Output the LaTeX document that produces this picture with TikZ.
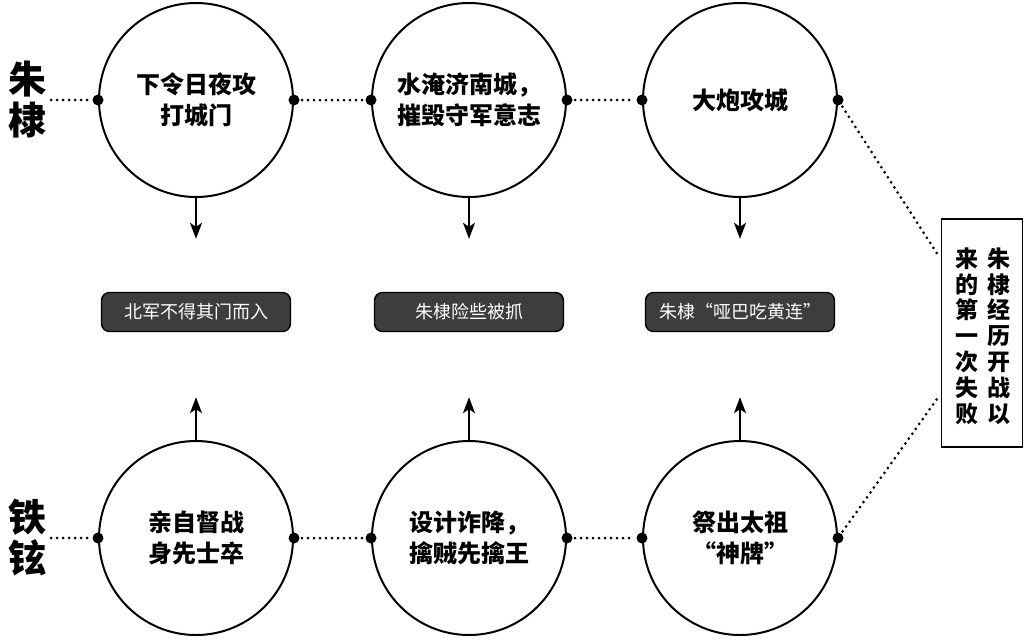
\documentclass[tikz,border=0pt]{standalone}
\usepackage{xcolor}
\usepackage{tikz}
\usetikzlibrary{arrows.meta}
\usetikzlibrary{positioning, shapes.geometric}
\usepackage{fontspec}
\newfontfamily\cjk{Noto Sans CJK SC}

\tikzset{
	quan/.style={circle, draw, line width=2pt, minimum size=194pt, inner sep=0pt, align=center, font=\cjk\bfseries\fontsize{24}{31}\selectfont},
	jieguo/.style={draw=black, line width=1.4pt, fill=black!76, text=white, rounded corners=8pt, minimum width=189pt, minimum height=39pt, inner sep=0pt, font=\cjk\fontsize{18}{18}\selectfont},
	renming/.style={align=center, inner sep=0pt, font=\cjk\bfseries\fontsize{38}{41}\selectfont},
	lie/.style={align=center, inner sep=0pt, font=\cjk\bfseries\fontsize{23}{25.8}\selectfont},
	xuxian/.style={line width=3pt, line cap=round, dash pattern=on 0pt off 6pt},
}

\begin{document}
\begin{tikzpicture}[>={Stealth[length=16pt,width=12pt,inset=4pt]}, x=1pt, y=-1pt]
			\useasboundingbox (0,0) rectangle (1030,641);
			% 朱棣一方
			\node[renming] (zhu) at (28,100) {朱\\棣};
			\node[quan] (z1) at (196,100) {下令日夜攻\\打城门};
			\node[quan] (z2) at (469,100) {水淹济南城，\\摧毁守军意志};
			\node[quan] (z3) at (740,100) {大炮攻城};
			% 铁铉一方
			\node[renming] (tie) at (28,538) {铁\\铉};
			\node[quan] (t1) at (196,538) {亲自督战\\身先士卒};
			\node[quan] (t2) at (469,538) {设计诈降，\\擒贼先擒王};
			\node[quan] (t3) at (740,538) {祭出太祖\\“神牌”};
			% 中间的结果
			\node[jieguo] (r1) at (196,312) {北军不得其门而入};
			\node[jieguo] (r2) at (469,312) {朱棣险些被抓};
			\node[jieguo] (r3) at (740,312) {朱棣“哑巴吃黄连”};
			% 右边的方框
			\node[draw, line width=1.6pt, minimum width=81pt, minimum height=228pt] (zong) at (982,333) {};
			\node[lie] (lie1) at (999,336) {朱\\棣\\经\\历\\开\\战\\以};
			\node[lie] (lie2) at (967,336) {来\\的\\第\\一\\次\\失\\败};
			% 箭头
			\foreach \i in {1,2,3} {
				\draw[->, line width=1.8pt, shorten >=53pt] (z\i) -- (r\i);
				\draw[->, line width=1.8pt, shorten >=65pt] (t\i) -- (r\i);
			}
			% 虚线
			\draw[xuxian, shorten <=4pt, shorten >=8pt] (zhu) -- (z1.west);
			\draw[xuxian, shorten <=4pt, shorten >=8pt] (tie) -- (t1.west);
			\draw[xuxian, shorten <=8pt, shorten >=8pt] (z1.east) -- (z2.west);
			\draw[xuxian, shorten <=8pt, shorten >=8pt] (z2.east) -- (z3.west);
			\draw[xuxian, shorten <=8pt, shorten >=8pt] (t1.east) -- (t2.west);
			\draw[xuxian, shorten <=8pt, shorten >=8pt] (t2.east) -- (t3.west);
			\draw[xuxian, shorten <=8pt, shorten >=2pt] (z3.east) -- ([yshift=-41pt]zong.north west);
			\draw[xuxian, shorten <=8pt, shorten >=2pt] (t3.east) -- ([yshift=54pt]zong.south west);
			% 圆点
			\foreach \n in {z1,z2,z3,t1,t2,t3} {
				\fill (\n.west) circle (5.5pt);
				\fill (\n.east) circle (5.5pt);
			}
		\end{tikzpicture}
\end{document}
